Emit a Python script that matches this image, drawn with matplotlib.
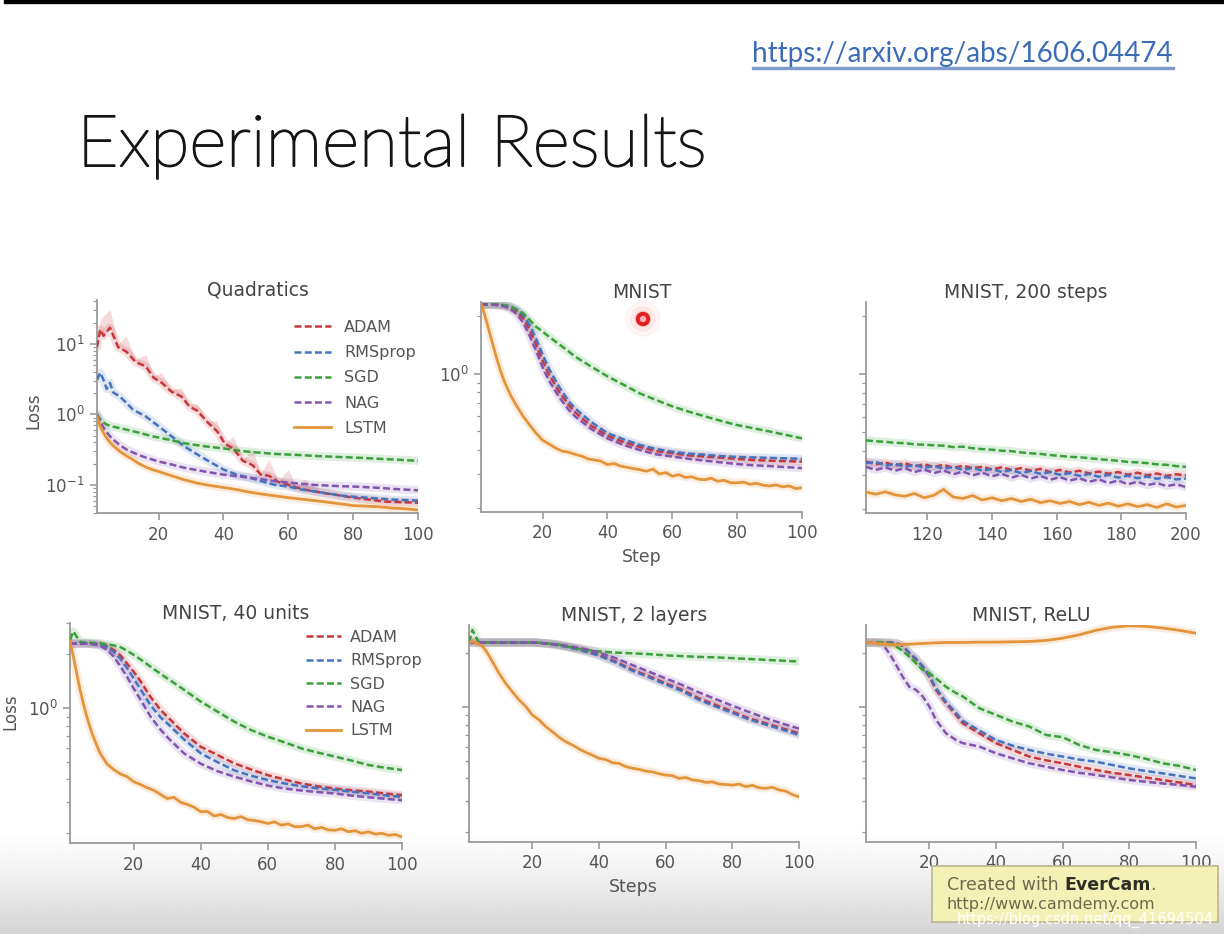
import numpy as np
import matplotlib
matplotlib.use('Agg')
import matplotlib.pyplot as plt
import matplotlib.patheffects as pe
from matplotlib.ticker import LogLocator, NullFormatter, LogFormatterMathtext, FixedLocator
from matplotlib.patches import Rectangle, Circle

# ---------------- data ----------------
labels = ['ADAM', 'RMSprop', 'SGD', 'NAG', 'LSTM']

# Quadratics
quad_x = [1, 2, 3, 4, 5, 6, 8, 10, 12, 14, 16, 18, 20, 24, 28, 32, 36, 40, 44, 48, 52, 56, 60,
          64, 68, 72, 76, 80, 84, 88, 92, 96, 100]
quad_adam_x = [1, 2, 3, 5, 7.5, 10, 13, 16, 18.5, 21, 24, 27, 29.5, 32, 35, 38, 40.5, 43, 46, 49,
               51.5, 54, 57, 60, 62.5, 65, 70, 75, 80, 85, 90, 95, 100]
quad_adam = [9, 16, 13, 17, 9, 7.8, 5.5, 4.8, 3.3, 2.8, 2.1, 1.8, 1.3, 1.12, 0.78, 0.58, 0.38, 0.33,
             0.22, 0.19, 0.14, 0.135, 0.11, 0.10, 0.092, 0.086, 0.078, 0.072, 0.066, 0.062, 0.058,
             0.057, 0.056]
quad_adam_upper = [12, 22, 25, 31, 10, 13, 6, 7.1, 3.6, 3.9, 2.25, 2.4, 1.4, 1.4, 0.82, 0.8, 0.4,
                   0.49, 0.23, 0.32, 0.145, 0.23, 0.115, 0.166, 0.095, 0.12, 0.082, 0.075, 0.069,
                   0.065, 0.061, 0.06, 0.059]
quad_rms = [3.1, 3.9, 3.1, 2.3, 2.8, 2.05, 1.8, 1.47, 1.18, 1.05, 0.94, 0.8, 0.68, 0.49, 0.35, 0.27,
            0.21, 0.166, 0.14, 0.127, 0.112, 0.10, 0.095, 0.086, 0.081, 0.076, 0.071, 0.068, 0.066,
            0.064, 0.062, 0.061, 0.06]
quad_sgd = [1.0, 0.85, 0.77, 0.72, 0.69, 0.67, 0.64, 0.61, 0.58, 0.55, 0.52, 0.49, 0.47, 0.43, 0.39,
            0.365, 0.345, 0.33, 0.31, 0.295, 0.285, 0.275, 0.27, 0.265, 0.258, 0.253, 0.249, 0.245,
            0.24, 0.235, 0.23, 0.225, 0.22]
quad_nag = [1.0, 0.8, 0.65, 0.56, 0.49, 0.44, 0.37, 0.32, 0.29, 0.265, 0.245, 0.23, 0.215, 0.195,
            0.175, 0.162, 0.15, 0.14, 0.133, 0.127, 0.12, 0.113, 0.108, 0.104, 0.10, 0.098, 0.096,
            0.095, 0.093, 0.091, 0.088, 0.086, 0.084]
quad_lstm = [0.94, 0.68, 0.55, 0.46, 0.40, 0.36, 0.30, 0.26, 0.23, 0.20, 0.18, 0.165, 0.155, 0.135,
             0.118, 0.106, 0.098, 0.092, 0.086, 0.079, 0.074, 0.07, 0.066, 0.063, 0.06, 0.057,
             0.054, 0.051, 0.05, 0.049, 0.047, 0.046, 0.044]

# common step grid of the MNIST panels (steps 1-100)
steps = [1, 2, 4, 6, 8, 10, 12, 14, 16, 18, 20, 22, 25, 28, 30, 35, 40, 45, 50, 55, 60, 65, 70,
         75, 80, 85, 90, 95, 100]
# denser grid for the (noisier) LSTM curves
lstm_steps = [1, 2, 3, 4, 5, 6, 7, 8, 9, 10, 12, 14, 16, 18] + list(range(20, 101, 2))

# MNIST
mnist_adam = [2.3, 2.3, 2.3, 2.29, 2.27, 2.22, 2.12, 1.95, 1.70, 1.42, 1.17, 0.99, 0.81, 0.69, 0.63,
              0.535, 0.475, 0.44, 0.415, 0.395, 0.385, 0.375, 0.37, 0.365, 0.36, 0.355, 0.352,
              0.35, 0.348]
mnist_rms = [2.3, 2.3, 2.3, 2.3, 2.28, 2.25, 2.17, 2.02, 1.80, 1.52, 1.26, 1.06, 0.86, 0.72, 0.66,
             0.56, 0.49, 0.455, 0.425, 0.405, 0.392, 0.383, 0.378, 0.372, 0.368, 0.366, 0.364,
             0.362, 0.36]
mnist_sgd = [2.3, 2.3, 2.3, 2.3, 2.28, 2.24, 2.16, 2.07, 1.91, 1.76, 1.66, 1.56, 1.43, 1.31, 1.23,
             1.09, 0.97, 0.876, 0.79, 0.73, 0.676, 0.635, 0.60, 0.568, 0.54, 0.52, 0.50, 0.48, 0.46]
mnist_nag = [2.3, 2.3, 2.3, 2.28, 2.25, 2.18, 2.05, 1.85, 1.58, 1.32, 1.08, 0.92, 0.76, 0.65, 0.60,
             0.515, 0.46, 0.425, 0.40, 0.38, 0.37, 0.36, 0.352, 0.345, 0.338, 0.333, 0.33, 0.326,
             0.322]
mnist_lstm = [2.33, 2.07, 1.8, 1.56, 1.35, 1.18, 1.04, 0.93, 0.85, 0.78, 0.68, 0.6, 0.54, 0.49,
              0.45, 0.43, 0.41, 0.395, 0.39, 0.38, 0.372, 0.36, 0.355, 0.35, 0.336, 0.34, 0.33,
              0.325, 0.32, 0.316, 0.31, 0.318, 0.30, 0.305, 0.292, 0.298, 0.288, 0.29, 0.282, 0.28,
              0.285, 0.275, 0.278, 0.27, 0.27, 0.272, 0.265, 0.268, 0.262, 0.26, 0.263, 0.257, 0.26,
              0.252, 0.254]

# MNIST, 200 steps (steps 101-200)
long_steps = list(range(101, 201, 3))
long_adam = [0.352, 0.34, 0.348, 0.335, 0.345, 0.332, 0.34, 0.33, 0.338, 0.326, 0.334, 0.325, 0.33,
             0.32, 0.328, 0.318, 0.325, 0.315, 0.322, 0.31, 0.318, 0.308, 0.315, 0.305, 0.312,
             0.304, 0.31, 0.30, 0.308, 0.298, 0.305, 0.296, 0.302, 0.298]
long_rms = [0.345, 0.35, 0.335, 0.342, 0.33, 0.338, 0.326, 0.334, 0.322, 0.33, 0.318, 0.326, 0.315,
            0.322, 0.31, 0.318, 0.306, 0.314, 0.303, 0.31, 0.30, 0.306, 0.296, 0.303, 0.293, 0.30,
            0.29, 0.297, 0.288, 0.294, 0.286, 0.292, 0.284, 0.287]
long_sgd = [0.453, 0.448, 0.445, 0.44, 0.438, 0.432, 0.43, 0.427, 0.425, 0.418, 0.42, 0.412, 0.408,
            0.405, 0.40, 0.398, 0.392, 0.388, 0.385, 0.38, 0.376, 0.372, 0.37, 0.366, 0.362, 0.358,
            0.355, 0.35, 0.348, 0.345, 0.34, 0.338, 0.333, 0.33]
long_nag = [0.33, 0.318, 0.328, 0.315, 0.325, 0.31, 0.32, 0.306, 0.316, 0.302, 0.312, 0.298, 0.308,
            0.295, 0.304, 0.29, 0.30, 0.287, 0.296, 0.283, 0.292, 0.28, 0.288, 0.276, 0.284, 0.272,
            0.28, 0.268, 0.276, 0.265, 0.272, 0.262, 0.268, 0.259]
long_lstm = [0.244, 0.238, 0.245, 0.236, 0.232, 0.24, 0.228, 0.235, 0.252, 0.23, 0.226, 0.234, 0.222,
             0.228, 0.22, 0.226, 0.218, 0.224, 0.215, 0.22, 0.213, 0.218, 0.21, 0.216, 0.208, 0.214,
             0.206, 0.212, 0.205, 0.21, 0.203, 0.212, 0.204, 0.208]

# MNIST, 40 units
u40_adam = [2.3, 2.3, 2.3, 2.3, 2.3, 2.28, 2.23, 2.12, 1.98, 1.78, 1.60, 1.42, 1.16, 0.98, 0.90,
            0.725, 0.61, 0.548, 0.492, 0.455, 0.423, 0.40, 0.38, 0.366, 0.356, 0.348, 0.342, 0.334,
            0.327]
u40_rms = [2.3, 2.3, 2.3, 2.3, 2.29, 2.26, 2.2, 2.07, 1.9, 1.68, 1.47, 1.28, 1.04, 0.89, 0.824,
           0.67, 0.56, 0.50, 0.45, 0.42, 0.397, 0.38, 0.367, 0.357, 0.35, 0.342, 0.335, 0.326, 0.32]
u40_sgd = [2.41, 2.69, 2.35, 2.33, 2.32, 2.31, 2.28, 2.25, 2.2, 2.1, 1.99, 1.88, 1.71, 1.56, 1.47,
           1.27, 1.09, 0.958, 0.842, 0.756, 0.694, 0.645, 0.597, 0.565, 0.537, 0.51, 0.482, 0.465,
           0.452]
u40_nag = [2.3, 2.3, 2.3, 2.3, 2.28, 2.24, 2.13, 1.95, 1.72, 1.50, 1.29, 1.12, 0.90, 0.76, 0.69,
           0.56, 0.49, 0.445, 0.415, 0.39, 0.37, 0.356, 0.347, 0.34, 0.334, 0.325, 0.318, 0.312,
           0.306]
u40_lstm = [2.36, 1.95, 1.57, 1.27, 1.06, 0.90, 0.78, 0.69, 0.62, 0.56, 0.49, 0.455, 0.43, 0.415,
            0.389, 0.375, 0.36, 0.348, 0.33, 0.313, 0.318, 0.298, 0.29, 0.28, 0.264, 0.265, 0.25,
            0.255, 0.245, 0.242, 0.248, 0.238, 0.236, 0.232, 0.227, 0.232, 0.222, 0.226, 0.218,
            0.218, 0.222, 0.212, 0.216, 0.209, 0.208, 0.212, 0.204, 0.207, 0.2, 0.204, 0.198, 0.2,
            0.195, 0.197, 0.191]

# MNIST, 2 layers
l2_adam = [2.3, 2.3, 2.3, 2.3, 2.3, 2.3, 2.3, 2.3, 2.3, 2.3, 2.3, 2.29, 2.26, 2.22, 2.19, 2.09, 1.96,
           1.80, 1.62, 1.49, 1.36, 1.25, 1.12, 1.03, 0.946, 0.867, 0.813, 0.762, 0.715]
l2_rms = [2.3, 2.3, 2.3, 2.3, 2.3, 2.3, 2.3, 2.3, 2.3, 2.3, 2.3, 2.29, 2.26, 2.21, 2.18, 2.07, 1.94,
          1.78, 1.60, 1.47, 1.34, 1.23, 1.10, 1.01, 0.93, 0.855, 0.80, 0.75, 0.70]
l2_sgd = [2.3, 2.7, 2.3, 2.3, 2.3, 2.3, 2.3, 2.3, 2.3, 2.3, 2.3, 2.29, 2.27, 2.24, 2.19, 2.1, 2.05,
          2.02, 2.0, 1.98, 1.95, 1.93, 1.91, 1.9, 1.88, 1.86, 1.84, 1.82, 1.80]
l2_nag = [2.3, 2.3, 2.3, 2.3, 2.3, 2.3, 2.3, 2.3, 2.3, 2.3, 2.3, 2.29, 2.27, 2.24, 2.21, 2.13, 2.02,
          1.88, 1.72, 1.58, 1.45, 1.33, 1.21, 1.11, 1.02, 0.94, 0.87, 0.81, 0.76]
l2_lstm = [2.3, 2.32, 2.3, 2.25, 2.19, 2.08, 1.94, 1.80, 1.67, 1.55, 1.36, 1.22, 1.10, 1.01, 0.906,
           0.85, 0.78, 0.73, 0.68, 0.643, 0.615, 0.585, 0.56, 0.54, 0.518, 0.51, 0.49, 0.485, 0.466,
           0.456, 0.45, 0.44, 0.435, 0.425, 0.418, 0.415, 0.40, 0.405, 0.392, 0.389, 0.38, 0.383,
           0.372, 0.37, 0.367, 0.372, 0.36, 0.366, 0.355, 0.352, 0.357, 0.345, 0.34, 0.325, 0.316]

# MNIST, ReLU
relu_adam = [2.3, 2.3, 2.3, 2.3, 2.3, 2.28, 2.2, 2.0, 1.85, 1.69, 1.48, 1.25, 1.05, 0.906, 0.814,
             0.715, 0.63, 0.577, 0.53, 0.505, 0.486, 0.465, 0.446, 0.43, 0.418, 0.405, 0.392, 0.38,
             0.367]
relu_rms = [2.3, 2.3, 2.3, 2.3, 2.3, 2.28, 2.21, 2.02, 1.87, 1.7, 1.5, 1.28, 1.07, 0.93, 0.84, 0.74,
            0.656, 0.61, 0.577, 0.55, 0.53, 0.51, 0.496, 0.475, 0.455, 0.44, 0.427, 0.413, 0.40]
relu_sgd = [2.3, 2.3, 2.3, 2.3, 2.27, 2.19, 2.06, 1.92, 1.76, 1.62, 1.55, 1.45, 1.30, 1.2, 1.15,
            0.987, 0.906, 0.831, 0.78, 0.70, 0.68, 0.615, 0.577, 0.56, 0.54, 0.515, 0.486, 0.47,
            0.446]
relu_nag = [2.3, 2.3, 2.3, 2.25, 2.0, 1.73, 1.48, 1.30, 1.25, 1.15, 1.01, 0.85, 0.715, 0.656, 0.63,
            0.603, 0.553, 0.518, 0.486, 0.465, 0.446, 0.43, 0.418, 0.405, 0.392, 0.383, 0.375,
            0.368, 0.36]
relu_lstm = [2.3, 2.3, 2.28, 2.26, 2.24, 2.23, 2.24, 2.25, 2.26, 2.27, 2.28, 2.29, 2.3, 2.3, 2.3,
             2.31, 2.31, 2.32, 2.33, 2.36, 2.43, 2.54, 2.69, 2.80, 2.85, 2.83, 2.77, 2.69, 2.59]

# ---------------- style ----------------
COLORS = {'ADAM': '#c8373c', 'RMSprop': '#4673be', 'SGD': '#3ca03c',
          'NAG': '#8255af', 'LSTM': '#e4943a'}
TICK = '#9a9a9a'
TXT = '#555555'

W, H = 1224, 934
fig = plt.figure(figsize=(W / 100, H / 100), dpi=100)


def fx(x):
    return x / W


def fy(y):
    return 1 - y / H


def box(l, t, r, b):
    return [l / W, 1 - b / H, (r - l) / W, (b - t) / H]


# background with bottom gradient (video overlay)
bg = fig.add_axes([0, 0, 1, 1], zorder=-10)
rows = np.ones(H)
g0 = 830
rows[g0:] = 1 - 0.17 * (np.linspace(0, 1, H - g0) ** 1.3)
bg.imshow(np.repeat(rows[:, None], 4, axis=1), extent=[0, W, H, 0], aspect='auto',
          cmap='gray', vmin=0, vmax=1, interpolation='bilinear')
bg.add_patch(Rectangle((4, 0), W, 3, color='black'))
bg.set_xlim(0, W)
bg.set_ylim(H, 0)
bg.axis('off')

# slide title and link
fig.text(fx(77), fy(166), 'Experimental Results', fontsize=51.5, family='Lato',
         fontweight='light', color='#151515', va='baseline', ha='left',
         path_effects=[pe.withStroke(linewidth=1.4, foreground='#151515')])
fig.text(fx(752), fy(62), 'https://arxiv.org/abs/1606.04474', fontsize=20.1, family='Lato',
         color='#3c6cb6', va='baseline', ha='left')
bg.add_patch(Rectangle((752, 67), 422, 2.0, color='#7f9bcc'))


def draw(ax, x, y, name):
    c = COLORS[name]
    ax.plot(x, y, color=c, lw=6, alpha=0.16, zorder=1, solid_capstyle='round')
    if name == 'LSTM':
        ln, = ax.plot(x, y, color=c, lw=2.0, zorder=3, label=name)
    else:
        ln, = ax.plot(x, y, color=c, lw=1.8, ls=(0, (2.8, 1.3)), zorder=3, label=name)
    return ln


def style(ax, xlim, ylim, xticks, ylab=True, title=''):
    ax.set_facecolor('none')
    ax.set_yscale('log')
    ax.set_xlim(*xlim)
    ax.set_ylim(*ylim)
    for s in ('top', 'right'):
        ax.spines[s].set_visible(False)
    for s in ('left', 'bottom'):
        ax.spines[s].set_color(TICK)
        ax.spines[s].set_linewidth(1.3)
    ax.xaxis.set_major_locator(FixedLocator(xticks))
    ax.yaxis.set_major_locator(LogLocator(base=10))
    ax.yaxis.set_major_formatter(LogFormatterMathtext())
    ax.yaxis.set_minor_locator(LogLocator(base=10, subs=np.arange(2, 10)))
    ax.yaxis.set_minor_formatter(NullFormatter())
    ax.tick_params(which='both', color=TICK, labelcolor=TXT, labelsize=12, direction='out')
    ax.tick_params(which='major', length=5, width=1.2, pad=4)
    ax.tick_params(which='minor', length=3, width=0.9)
    if not ylab:
        ax.tick_params(axis='y', labelleft=False)
    ax.set_title(title, fontsize=13.5, color='#444444', pad=3)


leg_kw = dict(frameon=False, fontsize=11.5, labelcolor=TXT, borderpad=0, borderaxespad=0,
              bbox_transform=fig.transFigure, loc='upper left')

# --- Quadratics
ax1 = fig.add_axes(box(97, 300, 418, 513))
ax1.fill_between(quad_adam_x, quad_adam, quad_adam_upper, color=COLORS['ADAM'], alpha=0.18,
                 lw=0, zorder=1)
h = [draw(ax1, quad_adam_x, quad_adam, 'ADAM'),
     draw(ax1, quad_x, quad_rms, 'RMSprop'),
     draw(ax1, quad_x, quad_sgd, 'SGD'),
     draw(ax1, quad_x, quad_nag, 'NAG'),
     draw(ax1, quad_x, quad_lstm, 'LSTM')]
style(ax1, (1, 100), (0.04, 42), [20, 40, 60, 80, 100], True, 'Quadratics')
ax1.legend(handles=h, bbox_to_anchor=(fx(294), fy(320)), handlelength=2.3, handletextpad=0.85,
           labelspacing=0.64, **leg_kw)

# --- MNIST
ax2 = fig.add_axes(box(481, 302, 802, 512))
for xs, ys, n in [(steps, mnist_adam, 'ADAM'), (steps, mnist_rms, 'RMSprop'),
                  (steps, mnist_sgd, 'SGD'), (steps, mnist_nag, 'NAG'),
                  (lstm_steps, mnist_lstm, 'LSTM')]:
    draw(ax2, xs, ys, n)
style(ax2, (1, 100), (0.19, 2.37), [20, 40, 60, 80, 100], True, 'MNIST')

# --- MNIST, 200 steps
ax3 = fig.add_axes(box(866, 302, 1186, 513))
for ys, n in [(long_adam, 'ADAM'), (long_rms, 'RMSprop'), (long_sgd, 'SGD'),
              (long_nag, 'NAG'), (long_lstm, 'LSTM')]:
    draw(ax3, long_steps, ys, n)
style(ax3, (101, 200), (0.19, 2.37), [120, 140, 160, 180, 200], False, 'MNIST, 200 steps')

# --- MNIST, 40 units
ax4 = fig.add_axes(box(70, 623, 402, 843))
h4 = []
for xs, ys, n in [(steps, u40_adam, 'ADAM'), (steps, u40_rms, 'RMSprop'),
                  (steps, u40_sgd, 'SGD'), (steps, u40_nag, 'NAG'),
                  (lstm_steps, u40_lstm, 'LSTM')]:
    h4.append(draw(ax4, xs, ys, n))
style(ax4, (1, 100), (0.1766, 3.0), [20, 40, 60, 80, 100], True, 'MNIST, 40 units')
ax4.legend(handles=h4, bbox_to_anchor=(fx(306), fy(630)), handlelength=2.2, handletextpad=0.55,
           labelspacing=0.52, **leg_kw)

# --- MNIST, 2 layers
ax5 = fig.add_axes(box(469, 625, 799, 842))
for xs, ys, n in [(steps, l2_adam, 'ADAM'), (steps, l2_rms, 'RMSprop'),
                  (steps, l2_sgd, 'SGD'), (steps, l2_nag, 'NAG'),
                  (lstm_steps, l2_lstm, 'LSTM')]:
    draw(ax5, xs, ys, n)
style(ax5, (1, 100), (0.1766, 2.88), [20, 40, 60, 80, 100], False, 'MNIST, 2 layers')

# --- MNIST, ReLU
ax6 = fig.add_axes(box(866, 625, 1196, 842))
for ys, n in [(relu_adam, 'ADAM'), (relu_rms, 'RMSprop'), (relu_sgd, 'SGD'),
              (relu_nag, 'NAG'), (relu_lstm, 'LSTM')]:
    draw(ax6, steps, ys, n)
style(ax6, (1, 100), (0.1766, 2.88), [20, 40, 60, 80, 100], False, 'MNIST, ReLU')

# axis labels
fig.text(fx(33), fy(411), 'Loss', rotation=90, ha='center', va='center', fontsize=12, color=TXT)
fig.text(fx(10), fy(712), 'Loss', rotation=90, ha='center', va='center', fontsize=12, color=TXT)
fig.text(fx(642), fy(557), 'Step', ha='center', va='center', fontsize=12.5, color=TXT)
fig.text(fx(633), fy(887), 'Steps', ha='center', va='center', fontsize=12.5, color=TXT)

# recording cursor
for r, a in [(17, 0.05), (12, 0.08), (8, 0.12)]:
    bg.add_patch(Circle((643, 319), r, color='#ff6060', alpha=a, zorder=5))
bg.add_patch(Circle((643, 319), 6.5, color='#e02020', zorder=6))
bg.add_patch(Circle((643, 319), 2.5, color='#ffb0b0', zorder=7))

# EverCam watermark box (overlay)
ov = fig.add_axes([0, 0, 1, 1], zorder=20)
ov.set_xlim(0, W)
ov.set_ylim(H, 0)
ov.axis('off')
ov.add_patch(Rectangle((932, 866), 286, 56, facecolor='#f3f1b6', edgecolor='#b9b68c', lw=1.2))
t1 = ov.text(947, 885, 'Created with ', fontsize=12.5, color='#6d6a4c', va='center',
             ha='left', family='DejaVu Sans')
t2 = ov.annotate('EverCam', xy=(1, 0), xycoords=t1, va='bottom', ha='left', fontsize=12.5,
                 color='#2e2e22', fontweight='bold', family='DejaVu Sans')
ov.annotate('.', xy=(1, 0), xycoords=t2, va='bottom', ha='left', fontsize=12.5,
            color='#6d6a4c', family='DejaVu Sans')
ov.text(947, 904, 'http://www.camdemy.com', fontsize=11.5, color='#6d6a4c', va='center',
        ha='left', family='DejaVu Sans')
ov.text(1214, 920, 'https://blog.csdn.net/qq_41694504', fontsize=10.5, color='white',
        va='center', ha='right', family='DejaVu Sans')

fig.savefig('out.png', dpi=100)
